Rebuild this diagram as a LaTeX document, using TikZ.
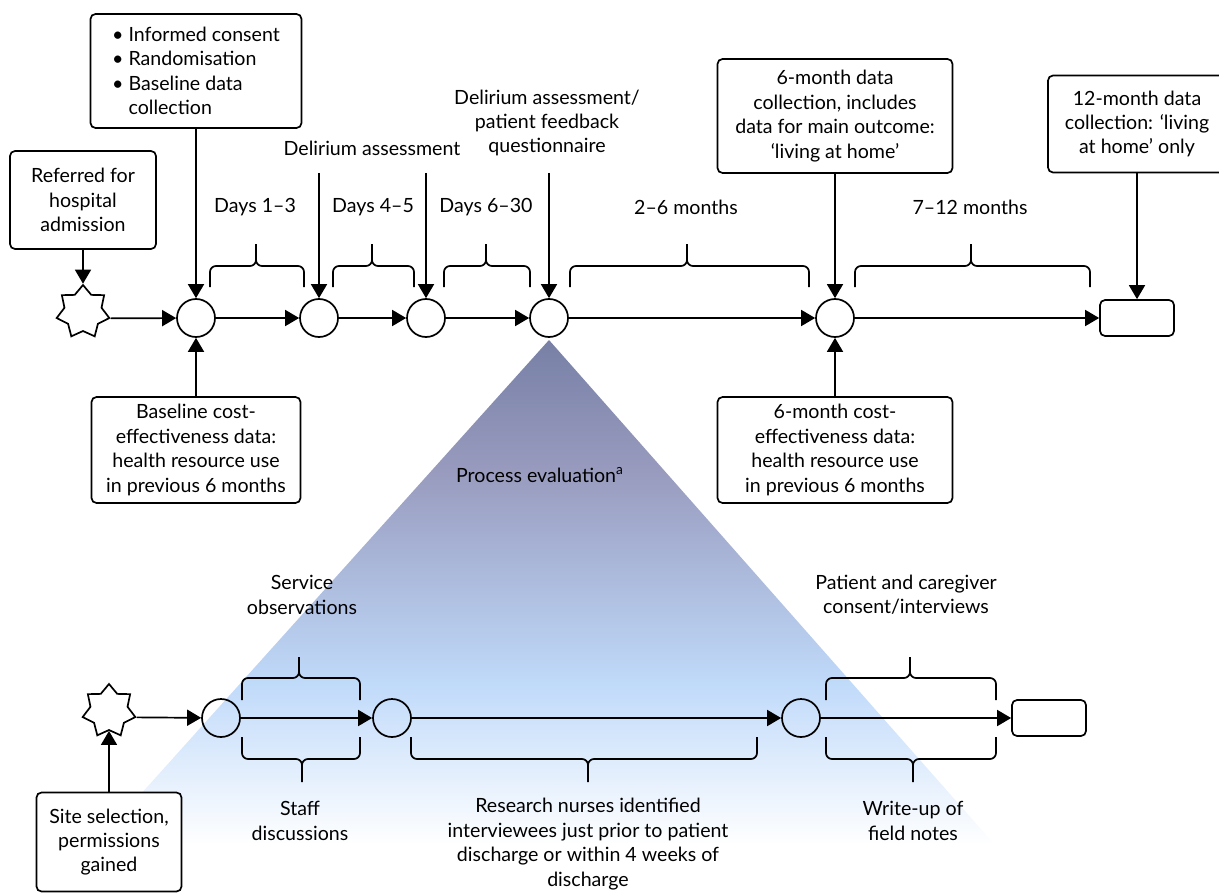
\documentclass[tikz,border=0pt]{standalone}
\usepackage{fontspec}
\setmainfont{Lato}
\usepackage{xcolor}
\usetikzlibrary{arrows.meta,shapes.geometric}

\definecolor{evaltop}{RGB}{120,128,166}
\definecolor{evalmid}{RGB}{152,155,190}
\definecolor{evallow}{RGB}{192,218,250}
\pgfdeclareverticalshading{evalfade}{100bp}{color(0bp)=(white); color(25bp)=(white); color(41bp)=(evallow); color(62bp)=(evalmid); color(75bp)=(evaltop); color(100bp)=(evaltop)}

\begin{document}
\begin{tikzpicture}[x=0.5pt, y=-0.5pt, line width=0.85pt,
  font=\fontsize{9.8pt}{12.2pt}\selectfont,
  >={Triangle[length=7pt,width=8pt]},
  box/.style={draw, rounded corners=2.5pt, align=center, fill=white},
  stage/.style={circle, draw, minimum size=19pt, inner sep=0pt},
  startstar/.style={star, star points=7, star point ratio=1.42, draw, minimum size=27pt, inner sep=0pt},
  endbox/.style={draw, rounded corners=2.5pt, minimum width=37pt, minimum height=18pt},
  timebrace/.style={rounded corners=3pt}]

 \useasboundingbox (0,0) rectangle (1219,893);

 % process evaluation wedge
 \shade[shading=evalfade] (549,340) -- (95,845) -- (995,845) -- cycle;
 \node (pe) at (540,475) {Process evaluation\textsuperscript{a}};

 % trial timeline
 \node[startstar] (s) at (83,312) {};
 \node[stage] (c1) at (196,318) {};
 \node[stage] (c2) at (319,318) {};
 \node[stage] (c3) at (426,318) {};
 \node[stage] (c4) at (549,318) {};
 \node[stage] (c5) at (835,318) {};
 \node[endbox] (fin) at (1137,318) {};

 \draw [->] (s.-13) -- (c1);
 \draw [->] (c1) -- (c2);
 \draw [->] (c2) -- (c3);
 \draw [->] (c3) -- (c4);
 \draw [->] (c4) -- (c5);
 \draw [->] (c5) -- (fin);

 \node[box, minimum width=73pt, minimum height=49pt] (refer) at (83,200) {Referred for\\hospital\\admission};
 \node[box, minimum width=105.5pt, minimum height=57pt, align=left] (consent) at (196,71) {\textbullet{} Informed consent\\\textbullet{} Randomisation\\\textbullet{} Baseline data\\\phantom{\textbullet{} }collection};
 \node[box, minimum width=104.5pt, minimum height=53pt] (basecost) at (196,450) {Baseline cost-\\effectiveness data:\\health resource use\\in previous 6 months};
 \node[box, minimum width=117.5pt, minimum height=57pt] (sixdata) at (835,116) {6-month data\\collection, includes\\data for main outcome:\\‘living at home’};
 \node[box, minimum width=117.5pt, minimum height=53pt] (sixcost) at (835,450) {6-month cost-\\effectiveness data:\\health resource use\\in previous 6 months};
 \node[box, minimum width=89pt, minimum height=48.5pt] (twelve) at (1137,124) {12-month data\\collection: ‘living\\at home’ only};

 \draw [->] (refer) -- (s);
 \draw [->] (consent) -- (c1);
 \draw [->] (basecost) -- (c1);
 \draw [->] (sixdata) -- (c5);
 \draw [->] (sixcost) -- (c5);
 \draw [->] (twelve) -- (fin);

 \node (delir) at (372,148) {Delirium assessment};
 \node[align=center] (feedback) at (547,123) {Delirium assessment/\\patient feedback\\questionnaire};
 \coordinate (d2) at (319,173);
 \coordinate (d3) at (426,173);
 \coordinate (d4) at (549,173);
 \draw [->] (d2) -- (c2);
 \draw [->] (d3) -- (c3);
 \draw [->] (d4) -- (c4);

 \node (days1) at (255,207) {Days 1--3};
 \node (days2) at (373,207) {Days 4--5};
 \node (days3) at (486,207) {Days 6--30};
 \node (mon1) at (686,207) {2--6 months};
 \node (mon2) at (970,207) {7--12 months};

 \draw [timebrace] (210,287) -- (210,266) -- (256,266) -- (256,244) (304,287) -- (304,266) -- (256,266) -- (256,244);
 \draw [timebrace] (333,287) -- (333,266) -- (372,266) -- (372,244) (414,287) -- (414,266) -- (372,266) -- (372,244);
 \draw [timebrace] (444,287) -- (444,266) -- (486,266) -- (486,244) (530,287) -- (530,266) -- (486,266) -- (486,244);
 \draw [timebrace] (570,287) -- (570,266) -- (687,266) -- (687,244) (809,287) -- (809,266) -- (687,266) -- (687,244);
 \draw [timebrace] (855,287) -- (855,266) -- (971,266) -- (971,244) (1090,287) -- (1090,266) -- (971,266) -- (971,244);

 % process evaluation timeline
 \node[startstar] (ls) at (109,711) {};
 \node[stage] (l1) at (221,718) {};
 \node[stage] (l2) at (392,718) {};
 \node[stage] (l3) at (801,718) {};
 \node[endbox] (lfin) at (1049,718) {};

 \draw [->] (ls.-13) -- (l1);
 \draw [->] (l1) -- (l2);
 \draw [->] (l2) -- (l3);
 \draw [->] (l3) -- (lfin);

 \node[box, minimum width=72.5pt, minimum height=49.5pt] (site) at (109,842) {Site selection,\\permissions\\gained};
 \draw [->] (site) -- (ls);

 \node[align=center] (serv) at (302,595) {Service\\observations};
 \node[align=center] (inter) at (906,595) {Patient and caregiver\\consent/interviews};
 \node[align=center] (staff) at (300,821) {Staff\\discussions};
 \node[align=center] (nurses) at (588,844) {Research nurses identified\\interviewees just prior to patient\\discharge or within 4 weeks of\\discharge};
 \node[align=center] (notes) at (913,821) {Write-up of\\field notes};

 \draw [timebrace] (242,700) -- (242,678) -- (299,678) -- (299,657) (360,700) -- (360,678) -- (299,678) -- (299,657);
 \draw [timebrace] (242,737) -- (242,759) -- (302,759) -- (302,782) (360,737) -- (360,759) -- (302,759) -- (302,782);
 \draw [timebrace] (411,737) -- (411,759) -- (588,759) -- (588,782) (757,737) -- (757,759) -- (588,759) -- (588,782);
 \draw [timebrace] (826,700) -- (826,678) -- (910,678) -- (910,657) (996,700) -- (996,678) -- (910,678) -- (910,657);
 \draw [timebrace] (826,737) -- (826,759) -- (913,759) -- (913,782) (996,737) -- (996,759) -- (913,759) -- (913,782);
\end{tikzpicture}
\end{document}
